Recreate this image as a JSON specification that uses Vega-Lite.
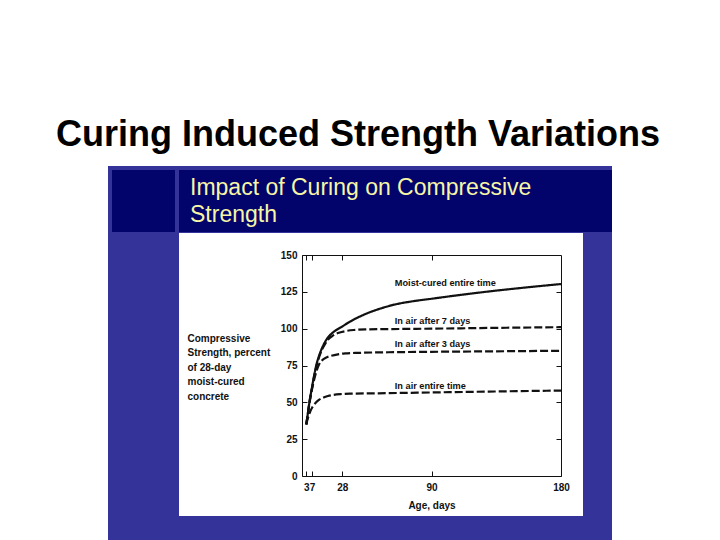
{
  "$schema": "https://vega.github.io/schema/vega-lite/v6.json",
  "width": 259,
  "height": 221,
  "autosize": {"type": "none"},
  "padding": {"left": 302, "top": 255, "right": 159, "bottom": 64},
  "background": "white",
  "config": {"view": {"stroke": null}, "font": "Liberation Sans"},
  "datasets": {
    "curves": [
      {"series": "Moist-cured entire time", "day": 3, "strength": 35},
      {"series": "Moist-cured entire time", "day": 4, "strength": 42},
      {"series": "Moist-cured entire time", "day": 5, "strength": 49},
      {"series": "Moist-cured entire time", "day": 6, "strength": 55},
      {"series": "Moist-cured entire time", "day": 7, "strength": 60.5},
      {"series": "Moist-cured entire time", "day": 8, "strength": 66},
      {"series": "Moist-cured entire time", "day": 9, "strength": 71},
      {"series": "Moist-cured entire time", "day": 10, "strength": 75.5},
      {"series": "Moist-cured entire time", "day": 12, "strength": 82},
      {"series": "Moist-cured entire time", "day": 14, "strength": 87},
      {"series": "Moist-cured entire time", "day": 16, "strength": 91},
      {"series": "Moist-cured entire time", "day": 18, "strength": 94},
      {"series": "Moist-cured entire time", "day": 21, "strength": 97},
      {"series": "Moist-cured entire time", "day": 25, "strength": 99.8},
      {"series": "Moist-cured entire time", "day": 28, "strength": 101.5},
      {"series": "Moist-cured entire time", "day": 32, "strength": 104},
      {"series": "Moist-cured entire time", "day": 38, "strength": 107.2},
      {"series": "Moist-cured entire time", "day": 45, "strength": 110.3},
      {"series": "Moist-cured entire time", "day": 55, "strength": 113.8},
      {"series": "Moist-cured entire time", "day": 65, "strength": 116.5},
      {"series": "Moist-cured entire time", "day": 77, "strength": 118.6},
      {"series": "Moist-cured entire time", "day": 90, "strength": 120.3},
      {"series": "Moist-cured entire time", "day": 110, "strength": 122.9},
      {"series": "Moist-cured entire time", "day": 133, "strength": 125.6},
      {"series": "Moist-cured entire time", "day": 156, "strength": 128},
      {"series": "Moist-cured entire time", "day": 180, "strength": 130.3},
      {"series": "In air after 7 days", "day": 3, "strength": 35},
      {"series": "In air after 7 days", "day": 4, "strength": 42},
      {"series": "In air after 7 days", "day": 5, "strength": 49},
      {"series": "In air after 7 days", "day": 6, "strength": 55},
      {"series": "In air after 7 days", "day": 7, "strength": 60},
      {"series": "In air after 7 days", "day": 8, "strength": 65.5},
      {"series": "In air after 7 days", "day": 9, "strength": 70},
      {"series": "In air after 7 days", "day": 10, "strength": 74.5},
      {"series": "In air after 7 days", "day": 12, "strength": 81},
      {"series": "In air after 7 days", "day": 14, "strength": 86},
      {"series": "In air after 7 days", "day": 16, "strength": 89.5},
      {"series": "In air after 7 days", "day": 18, "strength": 92.5},
      {"series": "In air after 7 days", "day": 21, "strength": 95},
      {"series": "In air after 7 days", "day": 25, "strength": 97},
      {"series": "In air after 7 days", "day": 30, "strength": 98.3},
      {"series": "In air after 7 days", "day": 36, "strength": 99.1},
      {"series": "In air after 7 days", "day": 45, "strength": 99.5},
      {"series": "In air after 7 days", "day": 60, "strength": 99.7},
      {"series": "In air after 7 days", "day": 90, "strength": 100},
      {"series": "In air after 7 days", "day": 130, "strength": 100.5},
      {"series": "In air after 7 days", "day": 180, "strength": 101},
      {"series": "In air after 3 days", "day": 3, "strength": 35},
      {"series": "In air after 3 days", "day": 4, "strength": 41.5},
      {"series": "In air after 3 days", "day": 5, "strength": 48},
      {"series": "In air after 3 days", "day": 6, "strength": 54},
      {"series": "In air after 3 days", "day": 7, "strength": 59},
      {"series": "In air after 3 days", "day": 8, "strength": 63.5},
      {"series": "In air after 3 days", "day": 9, "strength": 67.5},
      {"series": "In air after 3 days", "day": 10, "strength": 71},
      {"series": "In air after 3 days", "day": 12, "strength": 76},
      {"series": "In air after 3 days", "day": 14, "strength": 78.5},
      {"series": "In air after 3 days", "day": 17, "strength": 80.5},
      {"series": "In air after 3 days", "day": 20, "strength": 81.5},
      {"series": "In air after 3 days", "day": 25, "strength": 82.6},
      {"series": "In air after 3 days", "day": 30, "strength": 83.2},
      {"series": "In air after 3 days", "day": 40, "strength": 83.6},
      {"series": "In air after 3 days", "day": 60, "strength": 84},
      {"series": "In air after 3 days", "day": 90, "strength": 84.3},
      {"series": "In air after 3 days", "day": 130, "strength": 84.6},
      {"series": "In air after 3 days", "day": 180, "strength": 85},
      {"series": "In air entire time", "day": 3, "strength": 35},
      {"series": "In air entire time", "day": 4, "strength": 39},
      {"series": "In air entire time", "day": 5, "strength": 42},
      {"series": "In air entire time", "day": 6, "strength": 44.5},
      {"series": "In air entire time", "day": 7, "strength": 46.3},
      {"series": "In air entire time", "day": 8, "strength": 47.8},
      {"series": "In air entire time", "day": 10, "strength": 50.2},
      {"series": "In air entire time", "day": 12, "strength": 51.8},
      {"series": "In air entire time", "day": 15, "strength": 53.3},
      {"series": "In air entire time", "day": 18, "strength": 54.3},
      {"series": "In air entire time", "day": 22, "strength": 55.1},
      {"series": "In air entire time", "day": 27, "strength": 55.6},
      {"series": "In air entire time", "day": 35, "strength": 55.9},
      {"series": "In air entire time", "day": 50, "strength": 56.1},
      {"series": "In air entire time", "day": 70, "strength": 56.4},
      {"series": "In air entire time", "day": 90, "strength": 56.7},
      {"series": "In air entire time", "day": 130, "strength": 57.3},
      {"series": "In air entire time", "day": 180, "strength": 58}
    ],
    "labels": [
      {"label": "Moist-cured entire time", "day": 64.5, "strength": 131.2},
      {"label": "In air after 7 days", "day": 64.5, "strength": 105.4},
      {"label": "In air after 3 days", "day": 64.5, "strength": 89.6},
      {"label": "In air entire time", "day": 64.5, "strength": 61.3}
    ]
  },
  "layer": [
    {
      "data": {"values": [{}]},
      "mark": {"type": "rect", "color": "#333399"},
      "encoding": {"x": {"value": -194}, "x2": {"value": 310}, "y": {"value": -89}, "y2": {"value": 285}}
    },
    {
      "data": {"values": [{}]},
      "mark": {"type": "rect", "color": "#03036c"},
      "encoding": {"x": {"value": -123}, "x2": {"value": 310}, "y": {"value": -85}, "y2": {"value": -23}}
    },
    {
      "data": {"values": [{}]},
      "mark": {"type": "rect", "color": "#03036c"},
      "encoding": {"x": {"value": -190}, "x2": {"value": -127}, "y": {"value": -85}, "y2": {"value": -23}}
    },
    {
      "data": {"values": [{}]},
      "mark": {"type": "rect", "color": "#ffffff"},
      "encoding": {"x": {"value": -123}, "x2": {"value": 281}, "y": {"value": -22}, "y2": {"value": 261}}
    },
    {
      "data": {"values": [{"t": "Curing Induced Strength Variations"}]},
      "mark": {"type": "text", "font": "Liberation Sans", "fontSize": 36, "fontWeight": "bold", "color": "#000000", "align": "center", "baseline": "alphabetic"},
      "encoding": {"text": {"field": "t"}, "x": {"value": 56}, "y": {"value": -109}}
    },
    {
      "data": {"values": [{"t": ["Impact of Curing on Compressive", "Strength"]}]},
      "mark": {"type": "text", "font": "Liberation Sans", "fontSize": 23, "color": "#f6f6a6", "align": "left", "baseline": "alphabetic", "lineHeight": 26.5},
      "encoding": {"text": {"field": "t"}, "x": {"value": -112}, "y": {"value": -60}}
    },
    {
      "data": {"name": "curves"},
      "mark": {"type": "line", "strokeWidth": 2.2, "color": "#111111", "interpolate": "monotone"},
      "encoding": {
        "x": {
          "field": "day", "type": "quantitative",
          "scale": {"domain": [0, 180], "nice": false, "zero": false},
          "axis": {
            "orient": "bottom", "values": [3, 7, 28, 90, 180], "grid": false,
            "tickSize": -5, "tickColor": "#111111", "tickWidth": 1,
            "domainColor": "#111111", "domainWidth": 1,
            "labelFont": "Liberation Sans", "labelFontSize": 10, "labelFontWeight": "bold",
            "labelColor": "#111111", "labelPadding": 11, "labelFlush": false, "labelOverlap": false,
            "title": "Age, days", "titleFont": "Liberation Sans", "titleFontSize": 10,
            "titleFontWeight": "bold", "titleColor": "#111111", "titleX": 129.5, "titleY": 29,
            "titleBaseline": "middle", "titleAlign": "center", "zindex": 1
          }
        },
        "y": {
          "field": "strength", "type": "quantitative",
          "scale": {"domain": [0, 150], "nice": false},
          "axis": {
            "orient": "left", "values": [0, 25, 50, 75, 100, 125, 150], "grid": false,
            "tickSize": -5, "tickColor": "#111111", "tickWidth": 1,
            "domainColor": "#111111", "domainWidth": 1,
            "labelFont": "Liberation Sans", "labelFontSize": 10, "labelFontWeight": "bold",
            "labelColor": "#111111", "labelPadding": 10, "labelOverlap": false, "labelFlush": false,
            "title": ["Compressive", "Strength, percent", "of 28-day", "moist-cured", "concrete"],
            "titleFont": "Liberation Sans", "titleFontSize": 10, "titleFontWeight": "bold",
            "titleColor": "#111111", "titleAngle": 0, "titleAlign": "left", "titleBaseline": "middle",
            "titleX": -115, "titleY": 83, "titleLineHeight": 14.6, "zindex": 1
          }
        },
        "strokeDash": {
          "field": "series", "type": "nominal",
          "scale": {
            "domain": ["Moist-cured entire time", "In air after 7 days", "In air after 3 days", "In air entire time"],
            "range": [[1, 0], [8, 3], [8, 3], [8, 3]]
          },
          "legend": null
        }
      }
    },
    {
      "data": {"name": "labels"},
      "mark": {"type": "text", "font": "Liberation Sans", "fontSize": 9.2, "fontWeight": "bold", "color": "#111111", "align": "left", "baseline": "middle"},
      "encoding": {
        "text": {"field": "label"},
        "x": {
          "field": "day", "type": "quantitative",
          "axis": {
            "orient": "top", "values": [3, 7, 28, 90], "labels": false, "grid": false, "title": null,
            "tickSize": -5, "tickColor": "#111111", "domainColor": "#111111", "domainWidth": 1, "zindex": 1
          }
        },
        "y": {
          "field": "strength", "type": "quantitative",
          "axis": {
            "orient": "right", "values": [25, 50, 75, 100, 125], "labels": false, "grid": false, "title": null,
            "tickSize": -5, "tickColor": "#111111", "domainColor": "#111111", "domainWidth": 1, "zindex": 1
          }
        }
      }
    }
  ],
  "resolve": {"axis": {"x": "independent", "y": "independent"}}
}
